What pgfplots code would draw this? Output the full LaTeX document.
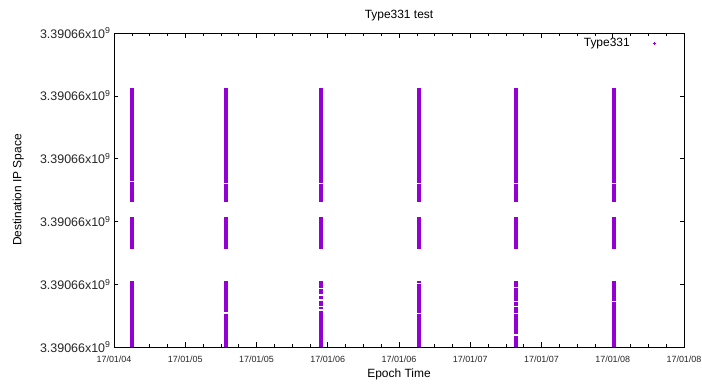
\documentclass[border=0pt]{standalone}
\usepackage{pgfplots}
\pgfplotsset{compat=1.18}
\usepackage{fontspec}
\setmainfont{Liberation Sans}
\definecolor{gpviolet}{RGB}{148,0,211}
\begin{document}
\begin{tikzpicture}
\begin{axis}[
  scale only axis,
  width=570bp, height=314bp,
  xmin=0, xmax=8, ymin=0, ymax=5,
  xtick={0,1,2,3,4,5,6,7,8},
  xticklabels={17/01/04,17/01/05,17/01/05,17/01/06,17/01/06,17/01/07,17/01/07,17/01/08,17/01/08},
  minor x tick num=3,
  ytick={0,1,2,3,4,5},
  yticklabels={3.39066x10\textsuperscript{9},3.39066x10\textsuperscript{9},3.39066x10\textsuperscript{9},3.39066x10\textsuperscript{9},3.39066x10\textsuperscript{9},3.39066x10\textsuperscript{9}},
  tick align=inside,
  major tick length=4.5bp, minor tick length=2.5bp,
  tick style={black, line width=0.6bp},
  axis line style={black, line width=0.8bp},
  xticklabel style={font=\fontsize{9}{10}\selectfont, text=black!85, yshift=-5bp},
  yticklabel style={font=\fontsize{12.5}{14}\selectfont, text=black!85},
  every axis title shift=0pt,
  title={Type331 test},
  title style={font=\fontsize{12}{14}\selectfont, at={(axis description cs:0.5,1.057)}, anchor=center},
  xlabel={Epoch Time},
  xlabel style={font=\fontsize{12}{14}\selectfont, at={(axis description cs:0.5,-0.087)}, anchor=center},
  ylabel={Destination IP Space},
  ylabel style={font=\fontsize{12}{14}\selectfont, at={(axis description cs:-0.168,0.5)}, anchor=center},
  unbounded coords=jump,
  legend plot pos=right,
  legend style={draw=none, fill=none, font=\fontsize{12}{14}\selectfont, /tikz/column sep=21bp, at={(axis description cs:0.956,0.968)}, anchor=east},
  every axis plot/.append style={gpviolet, line width=3.8bp, line cap=butt},
]
\addlegendimage{only marks, mark=+, mark size=1.5bp, color=gpviolet, mark options={solid, draw=gpviolet, line width=0.6bp}}
\addlegendentry{Type331}
% cluster 1
\addplot[forget plot, line width=4.3bp] coordinates {
(0.248,4.12)(0.248,2.640) (0.248,nan)
(0.248,2.620)(0.248,2.314) (0.248,nan)
(0.248,2.075)(0.248,1.56) (0.248,nan)
(0.248,1.051)(0.248,0)
};
% cluster 2
\addplot[forget plot] coordinates {
(1.568,4.12)(1.568,2.617) (1.568,nan)
(1.568,2.597)(1.568,2.314) (1.568,nan)
(1.568,2.075)(1.568,1.56) (1.568,nan)
(1.568,1.051)(1.568,0.551) (1.568,nan)
(1.568,0.531)(1.568,0)
};
% cluster 3
\addplot[forget plot] coordinates {
(2.901,4.12)(2.901,2.617) (2.901,nan)
(2.901,2.597)(2.901,2.314) (2.901,nan)
(2.901,2.075)(2.901,1.56) (2.901,nan)
(2.901,1.051)(2.901,0.945) (2.901,nan)
(2.901,0.925)(2.901,0.838) (2.901,nan)
(2.901,0.818)(2.901,0.758) (2.901,nan)
(2.901,0.738)(2.901,0.652) (2.901,nan)
(2.901,0.632)(2.901,0.599) (2.901,nan)
(2.901,0.579)(2.901,0)
};
% cluster 4
\addplot[forget plot] coordinates {
(4.285,4.12)(4.285,2.617) (4.285,nan)
(4.285,2.597)(4.285,2.314) (4.285,nan)
(4.285,2.075)(4.285,1.56) (4.285,nan)
(4.285,1.051)(4.285,1.02) (4.285,nan)
(4.285,1.00)(4.285,0.547) (4.285,nan)
(4.285,0.527)(4.285,0)
};
% cluster 5
\addplot[forget plot] coordinates {
(5.646,4.12)(5.646,2.617) (5.646,nan)
(5.646,2.597)(5.646,2.314) (5.646,nan)
(5.646,2.075)(5.646,1.56) (5.646,nan)
(5.646,1.051)(5.646,0.960) (5.646,nan)
(5.646,0.940)(5.646,0.730) (5.646,nan)
(5.646,0.710)(5.646,0.650) (5.646,nan)
(5.646,0.630)(5.646,0.547) (5.646,nan)
(5.646,0.527)(5.646,0.200) (5.646,nan)
(5.646,0.180)(5.646,0)
};
% cluster 6
\addplot[forget plot] coordinates {
(7.018,4.12)(7.018,2.617) (7.018,nan)
(7.018,2.597)(7.018,2.314) (7.018,nan)
(7.018,2.075)(7.018,1.56) (7.018,nan)
(7.018,1.051)(7.018,0.730) (7.018,nan)
(7.018,0.710)(7.018,0)
};
\end{axis}
\pgfresetboundingbox
\path (current axis.south west) ++(-114bp,-40bp) rectangle ++(702bp,387bp);
\end{tikzpicture}
\end{document}
